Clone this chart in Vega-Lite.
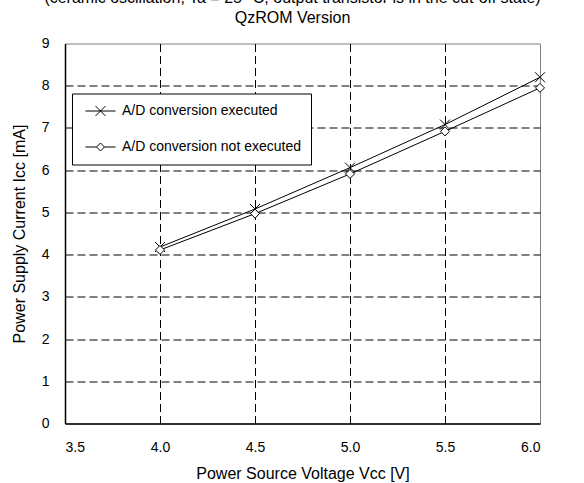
{
  "$schema": "https://vega.github.io/schema/vega-lite/v6.json",
  "width": 475,
  "height": 380,
  "autosize": {"type": "none"},
  "padding": {"left": 65, "top": 43.5, "right": 44, "bottom": 59.5},
  "background": "white",
  "title": {
    "text": ["(ceramic oscillation, Ta = 25 °C, output transistor is in the cut-off state)", "QzROM Version"],
    "anchor": "middle",
    "frame": "group",
    "font": "Liberation Sans",
    "fontSize": 16,
    "lineHeight": 20,
    "fontWeight": "normal",
    "color": "black",
    "offset": 11,
    "dx": -10
  },
  "data": {
    "values": [
      {"series": "A/D conversion executed", "vcc": 4.0, "icc": 4.18},
      {"series": "A/D conversion executed", "vcc": 4.5, "icc": 5.08},
      {"series": "A/D conversion executed", "vcc": 5.0, "icc": 6.06},
      {"series": "A/D conversion executed", "vcc": 5.5, "icc": 7.08},
      {"series": "A/D conversion executed", "vcc": 6.0, "icc": 8.2},
      {"series": "A/D conversion not executed", "vcc": 4.0, "icc": 4.11},
      {"series": "A/D conversion not executed", "vcc": 4.5, "icc": 4.97},
      {"series": "A/D conversion not executed", "vcc": 5.0, "icc": 5.91},
      {"series": "A/D conversion not executed", "vcc": 5.5, "icc": 6.92},
      {"series": "A/D conversion not executed", "vcc": 6.0, "icc": 7.95}
    ]
  },
  "encoding": {
    "x": {
      "field": "vcc",
      "type": "quantitative",
      "scale": {"domain": [3.5, 6], "nice": false, "zero": false},
      "axis": {
        "values": [3.5, 4, 4.5, 5, 5.5, 6],
        "format": ".1f",
        "title": "Power Source Voltage Vcc [V]",
        "labelPadding": 17,
        "titlePadding": 11,
        "gridOpacity": {"condition": {"test": "datum.value >= 6 || datum.value <= 3.5", "value": 0}, "value": 1}
      }
    },
    "y": {
      "field": "icc",
      "type": "quantitative",
      "scale": {"domain": [0, 9], "nice": false},
      "axis": {
        "values": [0, 1, 2, 3, 4, 5, 6, 7, 8, 9],
        "title": "Power Supply Current Icc [mA]",
        "labelPadding": 16,
        "titlePadding": 14,
        "gridOpacity": {"condition": {"test": "datum.value >= 9 || datum.value <= 0", "value": 0}, "value": 1}
      }
    }
  },
  "resolve": {"scale": {"shape": "independent"}, "legend": {"shape": "independent"}},
  "layer": [
    {
      "mark": {"type": "line", "color": "black", "strokeWidth": 1},
      "encoding": {"detail": {"field": "series", "type": "nominal"}}
    },
    {
      "mark": {"type": "point", "filled": false, "fill": "white", "fillOpacity": 1, "stroke": "black", "strokeWidth": 1, "size": 100, "opacity": 1},
      "encoding": {
        "shape": {
          "field": "series",
          "type": "nominal",
          "scale": {
            "domain": ["A/D conversion executed", "A/D conversion not executed"],
            "range": ["M-1,-1L1,1M-1,1L1,-1", "M-0.9,0L0,-0.9L0.9,0L0,0.9Z"]
          },
          "legend": null
        }
      }
    },
    {
      "mark": {"type": "point", "filled": false, "color": "black", "stroke": "black", "strokeWidth": 1, "size": 196, "opacity": 0},
      "encoding": {
        "shape": {
          "field": "series",
          "type": "nominal",
          "scale": {
            "domain": ["A/D conversion executed", "A/D conversion not executed"],
            "range": ["M-0.57,0L3.71,0M0.86,-0.71L2.28,0.71M0.86,0.71L2.28,-0.71", "M-0.57,0L1,0M2.14,0L3.71,0M1,0L1.57,-0.57L2.14,0L1.57,0.57Z"]
          },
          "legend": {
            "title": null,
            "orient": "none",
            "legendX": 7,
            "legendY": 50,
            "direction": "vertical",
            "fillColor": "white",
            "strokeColor": "black",
            "padding": 10,
            "symbolSize": 196,
            "symbolStrokeColor": "black",
            "symbolFillColor": "white",
            "symbolStrokeWidth": 1,
            "labelFont": "Liberation Sans",
            "labelFontSize": 14,
            "labelColor": "black",
            "labelLimit": 400,
            "labelOffset": 25,
            "rowPadding": 21,
            "encode": {
              "symbols": {
                "update": {
                  "opacity": {"value": 1},
                  "strokeOpacity": {"value": 1},
                  "stroke": {"value": "black"},
                  "fill": {"value": "white"},
                  "fillOpacity": {"value": 1},
                  "strokeWidth": {"value": 1}
                }
              }
            }
          }
        }
      }
    }
  ],
  "config": {
    "view": {"stroke": "#808080", "strokeWidth": 1},
    "axis": {
      "domainColor": "black",
      "domainWidth": 1.5,
      "ticks": false,
      "tickSize": 0,
      "grid": true,
      "gridColor": "black",
      "gridDash": [8, 4],
      "gridWidth": 1,
      "labelFont": "Liberation Sans",
      "labelFontSize": 14,
      "labelColor": "black",
      "titleFont": "Liberation Sans",
      "titleFontSize": 16,
      "titleFontWeight": "normal",
      "titleColor": "black"
    }
  }
}
